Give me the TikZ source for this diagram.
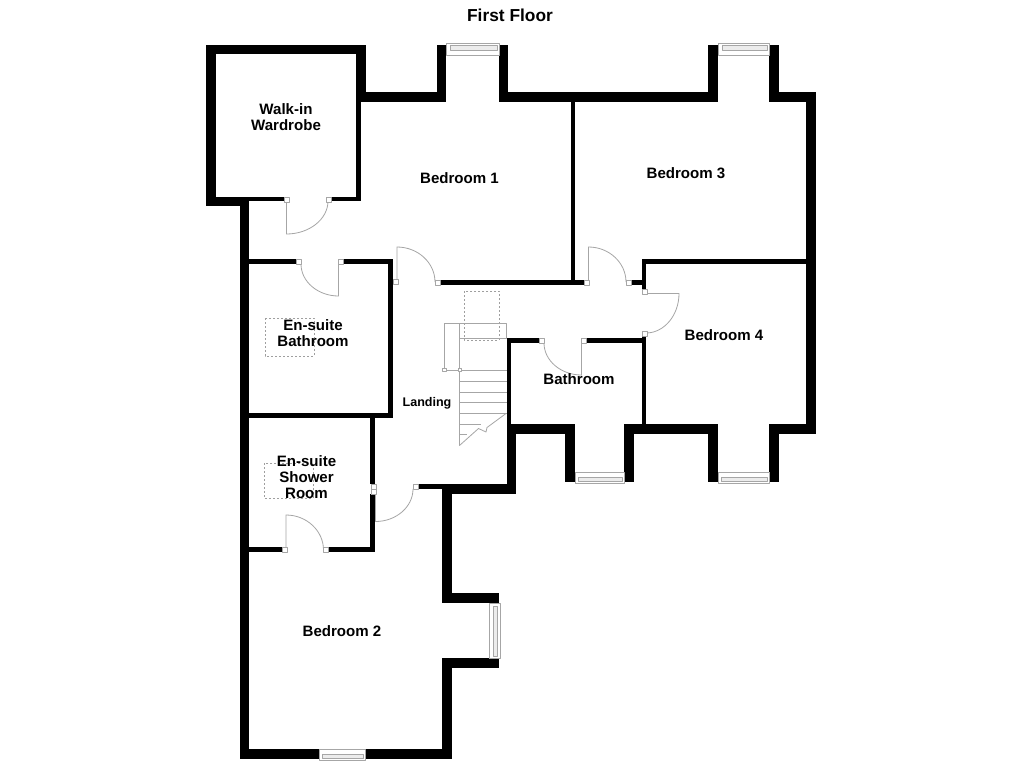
\documentclass[tikz,border=0pt]{standalone}
\usepackage{fontspec}
\setmainfont{Liberation Sans}
\tikzset{
wall/.style={fill=black},
thin/.style={draw=gray!70, line width=0.6pt},
jamb/.style={thin, fill=white},
glass/.style={thin, fill=gray!15},
hatch/.style={draw=gray!75, line width=0.5pt, dash pattern=on 1.5pt off 1.5pt},
room/.style={font=\bfseries\fontsize{11.3}{12}\selectfont, align=center, inner sep=0pt}
}
\begin{document}
\begin{tikzpicture}[x=0.75pt, y=-0.75pt, line join=round]
\useasboundingbox (0,0) rectangle (1024,768);
\fill[white] (0,0) rectangle (1024,768);
\foreach \xa/\ya/\xb/\yb in {206/45/366/54,206/45/216/206,206/197/249/206,216/197/284/201,331/197/361/201,356/45/366/102,356/102/361/201,
366/92/446/102,437/45/446/102,499/45/508/102,499/92/718/102,708/45/718/102,769/45/779/102,769/92/816/102,806/92/816/434,
769/424/816/434,769/424/779/482,708/424/718/482,624/424/718/434,624/424/634/482,565/424/575/482,507/424/575/434,507/424/516/494,
418/484/442/489,442/484/516/494,442/484/452/603,442/593/499/603,442/658/499/668,442/658/452/759,240/749/319/759,365/749/452/759,240/201/249/759,
571/102/575/285,439/280/584/285,631/280/642/285,642/259/646/289,642/259/806/264,642/336/646/424,586/338/642/343,507/338/539/343,507/338/511/424,
249/259/296/264,343/259/393/264,388/259/393/418,249/413/393/418,370/418/375/484,370/494/375/552,328/547/375/552,249/547/282/552}
\fill[wall] (\xa,\ya) rectangle (\xb,\yb);
\foreach \xa/\ya/\xb/\yb in {464/291/499/340,265/318/314/356,264/463/313/498}
\draw[hatch] (\xa,\ya) rectangle (\xb,\yb);
\foreach \hx/\hy/\tx/\ty/\sx/\sy in {286.5/201/286.5/234/328/201,338.5/264/338.5/296/301/264,397/282/397/247/435/282,
588.5/282/588.5/247/626/282,646/293.5/679/293.5/646/333,581.5/343/581.5/375/544/343,286/550/286/515/323.5/550,375.5/489/375.5/521.5/413/489}
\draw[thin] (\hx,\hy) -- (\tx,\ty) .. controls (\tx+.55*\sx-.55*\hx,\ty+.55*\sy-.55*\hy) and (\sx+.55*\tx-.55*\hx,\sy+.55*\ty-.55*\hy) .. (\sx,\sy);
\foreach \x/\y in {284/197,326/197,296/259.5,338.5/259.5,393/279.5,435/280,584.5/280,626/280,642/289.5,642/331,539.5/338.5,581.5/338.5,
282/547.5,323.5/547.5,413/484.5,371/484.5,371/489.5}
\draw[jamb] (\x,\y) rectangle +(5,5);
\foreach \xa/\ya/\xb/\yb/\xc/\yc/\xd/\yd in {446/43/499/55/450/45.5/497/50,718/43/769.5/55/722/45.5/767/50,575.5/472/624/483.5/578/477/622/481.5,
718/472/769.5/483.5/721/477/767/481.5,319/749.5/365/760.5/322/754.5/363/758.5,489/603.5/500.5/658.5/493.5/606/497.5/656}{
\draw[jamb] (\xa,\ya) rectangle (\xb,\yb);
\draw[glass] (\xc,\yc) rectangle (\xd,\yd);
}
\draw[thin] (459.5,323.5) rectangle (506.5,338) (444.5,323.5) rectangle (459.5,370);
\draw[thin] (459.5,323.5) -- (459.5,445.5) -- (478.5,428.5) -- (486,432) -- (487,427.5) -- (506,413.5);
\foreach \y in {370,381,392,402.7,413.3} \draw[thin] (459.5,\y) -- (506.5,\y);
\draw[thin] (459.5,424) -- (481,424) (459.5,434.7) -- (467,434.7);
\foreach \x in {442.5,458} \draw[jamb] (\x,368) rectangle +(3.5,3.5);
\node[room, font=\bfseries\fontsize{13}{14}\selectfont] (title) at (510,15) {First Floor};
\node[room] (wardrobe) at (286,117) {Walk-in\\Wardrobe};
\node[room] (bedone) at (459.5,178) {Bedroom 1};
\node[room] (bedtwo) at (342,631) {Bedroom 2};
\node[room] (bedthree) at (686,173) {Bedroom 3};
\node[room] (bedfour) at (724,335) {Bedroom 4};
\node[room] (bathroom) at (579,379) {Bathroom};
\node[room] (ensuite) at (313,333) {En-suite\\Bathroom};
\node[room] (shower) at (306.5,477) {En-suite\\Shower\\Room};
\node[room, font=\bfseries\fontsize{9.4}{11}\selectfont] (landing) at (427,403) {Landing};
\end{tikzpicture}
\end{document}
